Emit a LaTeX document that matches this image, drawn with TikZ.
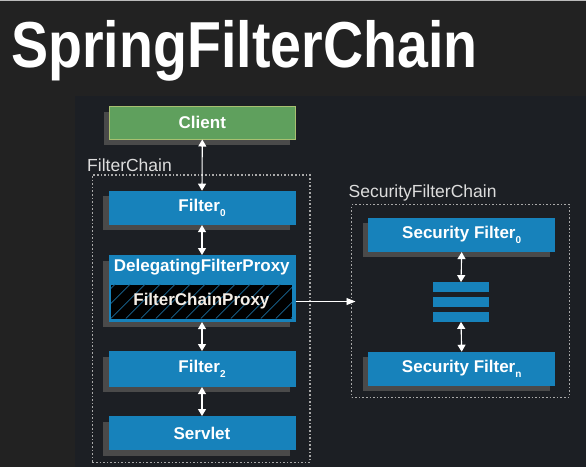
\documentclass[tikz,border=0pt]{standalone}
\usepackage{fontspec}
\setmainfont{Liberation Sans}
\usetikzlibrary{arrows.meta,shadows}
\definecolor{titlebg}{HTML}{222222}
\definecolor{panelbg}{HTML}{1C1F24}
\definecolor{boxblue}{HTML}{1782BB}
\definecolor{shadowgray}{HTML}{4A4A4A}
\definecolor{clientgreen}{HTML}{5FA05D}
\definecolor{clientedge}{HTML}{A8C070}
\definecolor{labelgray}{HTML}{DDDDDD}
\definecolor{dotgray}{HTML}{AAAAAA}
\definecolor{hatchblue}{HTML}{1A6A98}
\definecolor{topline}{HTML}{BBBBBB}
\newcommand{\lowsub}[1]{\raisebox{-5pt}{\fontsize{10}{10}\selectfont #1}}
\begin{document}
\begin{tikzpicture}[x=1pt,y=-1pt,
  shad/.style={drop shadow={shadow xshift=-5.5pt,shadow yshift=-5.5pt,fill=shadowgray,opacity=1}},
  boxfont/.style={font=\fontsize{17}{20}\selectfont\bfseries},
  box/.style={shad,fill=boxblue,minimum width=187pt,minimum height=34pt,inner sep=0pt,
    text=white,boxfont,anchor=north west},
  dotbox/.style={draw=dotgray,line width=1.3pt,dash pattern=on 1.6pt off 2pt,
    inner sep=0pt,anchor=north west},
  lbl/.style={text=labelgray,font=\fontsize{17.5}{20}\selectfont,inner sep=0pt,anchor=base west},
  bar/.style={fill=boxblue,minimum width=56.6pt,minimum height=10pt,inner sep=0pt},
  dbl/.style={draw=white,line width=1.1pt,{Triangle[width=8pt,length=7pt]}-{Triangle[width=8pt,length=7pt]}},
  one/.style={draw=white,line width=0.8pt,-{Triangle[width=7pt,length=9pt]}}
]
\useasboundingbox (0,0) rectangle (586,467);
% backgrounds
\fill[titlebg] (0,0) rectangle (586,467);
\fill[panelbg] (75,96) rectangle (586,467);
\fill[topline] (0,0) rectangle (586,1.3);
% title
\node[anchor=base west,text=white,inner sep=0pt,
  font=\fontsize{65}{70}\selectfont\bfseries] (title) at (11,67.5)
  {\scalebox{0.855}[1]{SpringFilterChain}};
% containers
\node[dotbox,minimum width=217.6pt,minimum height=287.4pt] (fcbox) at (91.7,174.3) {};
\node[lbl] (fclabel) at (87,171.5) {FilterChain};
\node[dotbox,minimum width=217.7pt,minimum height=192.7pt] (sfcbox) at (351,204) {};
\node[lbl] (sfclabel) at (348.5,197.7) {SecurityFilterChain};
% left column
\node[box,fill=clientgreen,draw=clientedge,line width=1pt,minimum width=186pt,minimum height=33pt] (client) at (108.8,105.5) {Client};
\node[box] (f0) at (108.3,190.7) {Filter\lowsub{0}};
\node[box,minimum height=66.7pt] (dfp) at (108.3,255) {};
\node[text=white,boxfont,inner sep=0pt,anchor=base] (dfplabel) at (201.8,271) {DelegatingFilterProxy};
\node[fill=black,minimum width=181pt,minimum height=34pt,inner sep=0pt,anchor=north west,
  text={rgb,255:red,245;green,238;blue,230},boxfont,
  path picture={
    \foreach \i in {-3,...,13}
      \draw[hatchblue,line width=0.6pt]
        ([xshift=\i*15pt]path picture bounding box.south west) -- ++(40pt,40pt);
  }] (fcp) at (110.7,284.3) {FilterChainProxy};
\node[box,minimum height=35.7pt] (f2) at (108.3,351) {Filter\lowsub{2}};
\node[box] (servlet) at (108.3,416) {Servlet};
% right column
\node[box] (sf0) at (368,217.7) {Security Filter\lowsub{0}};
\node[bar] (b1) at (461,287.3) {};
\node[bar] (b2) at (461,302) {};
\node[bar] (b3) at (461,316.7) {};
\node[box] (sfn) at (368,351.7) {Security Filter\lowsub{n}};
% connectors
\draw[dbl] (client.south) -- (f0.north);
\draw[dbl] (f0.south) -- (dfp.north);
\draw[dbl] (dfp.south) -- (f2.north);
\draw[dbl] (f2.south) -- (servlet.north);
\draw[dbl] (sf0.south) -- (b1.north);
\draw[dbl] (b3.south) -- (sfn.north);
\draw[one,shorten >=-4.5pt] (fcp.east -| dfp.east) -- (fcp.east -| sfcbox.west);
\end{tikzpicture}
\end{document}
